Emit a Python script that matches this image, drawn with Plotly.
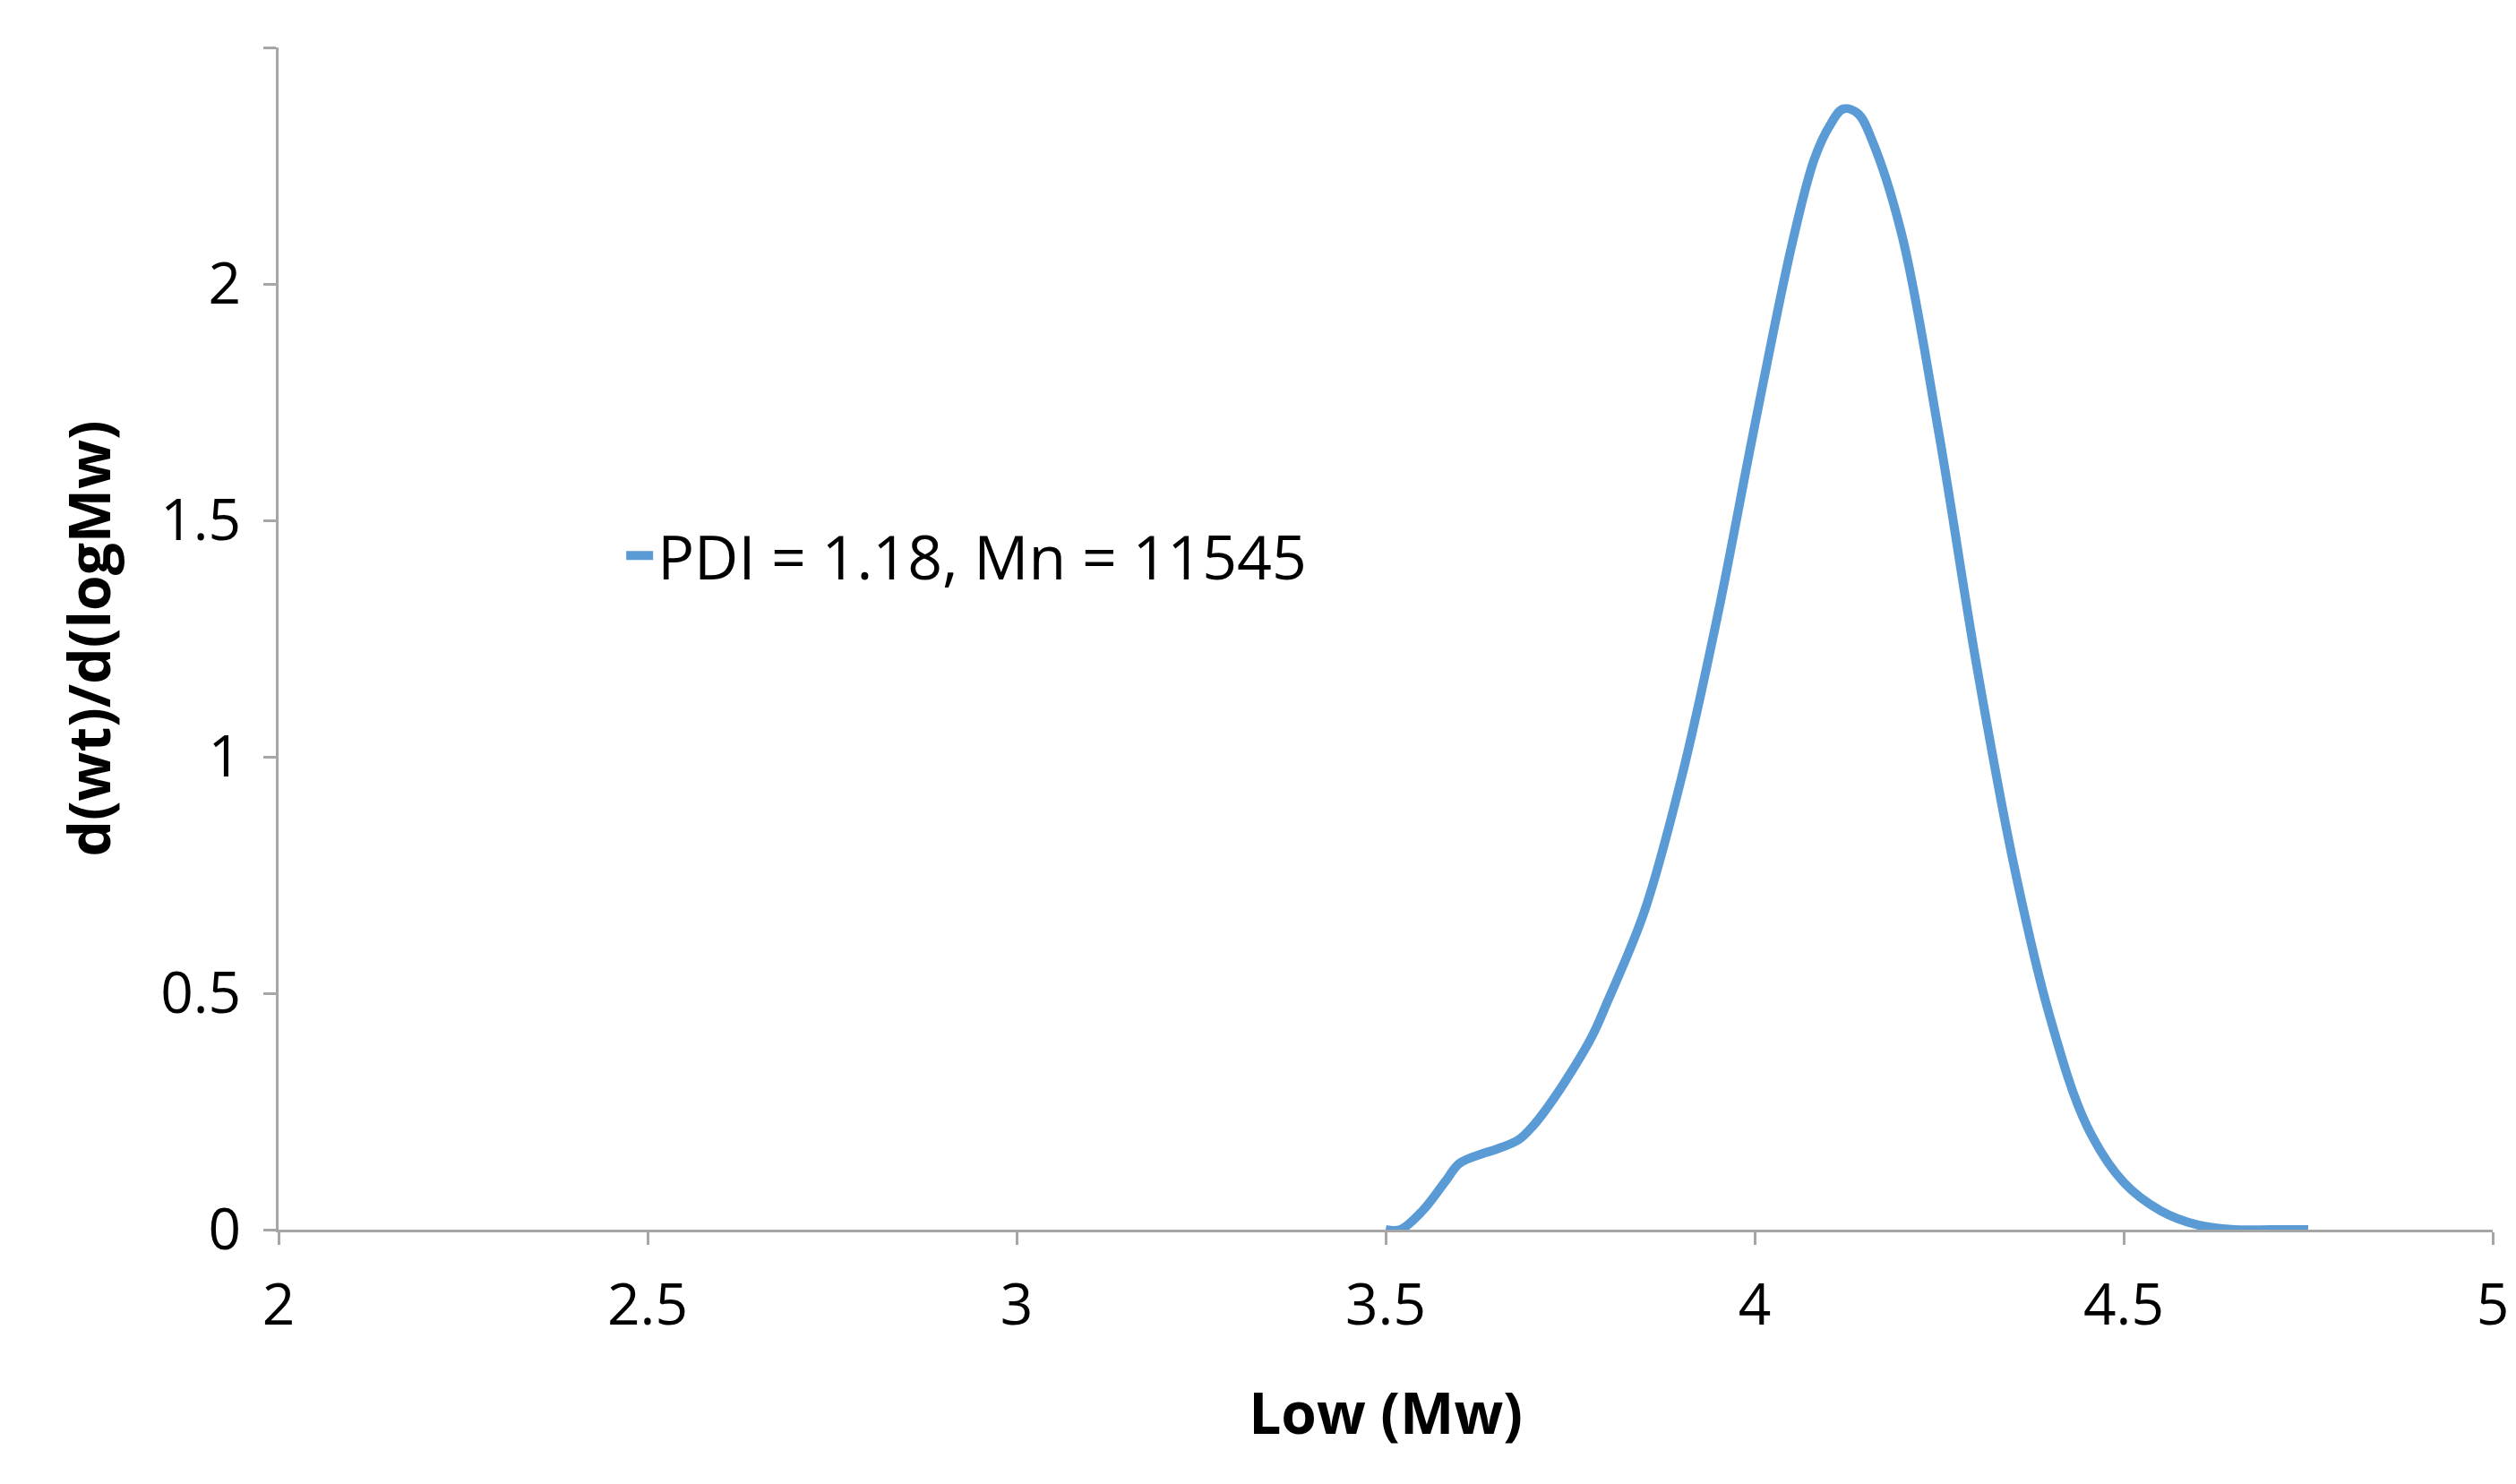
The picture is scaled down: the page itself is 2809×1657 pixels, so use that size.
import plotly.graph_objects as go

log_mw = [3.50, 3.52, 3.55, 3.58, 3.60, 3.63, 3.65, 3.68, 3.70, 3.72, 3.75, 3.78, 3.80,
          3.85, 3.90, 3.95, 4.00, 4.05, 4.08, 4.10, 4.12, 4.14, 4.16, 4.20, 4.25,
          4.30, 4.35, 4.40, 4.45, 4.50, 4.55, 4.60, 4.65, 4.70, 4.75]
dwt = [0.0, 0.0, 0.04, 0.10, 0.14, 0.16, 0.17, 0.19, 0.22, 0.26, 0.33, 0.41, 0.48,
       0.67, 0.95, 1.30, 1.70, 2.08, 2.26, 2.33, 2.37, 2.36, 2.30, 2.10, 1.68,
       1.20, 0.78, 0.45, 0.22, 0.10, 0.04, 0.01, 0.0, 0.0, 0.0]

font = "Open Sans, Liberation Sans, sans-serif"

fig = go.Figure(go.Scatter(
    x=log_mw, y=dwt, mode="lines", line=dict(color="#5B9BD5", width=10, shape="spline"),
    name="PDI = 1.18, Mn = 11545",
))

axis = dict(showgrid=False, zeroline=False, showline=True, linecolor="#A6A6A6", linewidth=3,
            ticks="outside", tickcolor="#A6A6A6", ticklen=14, tickwidth=3, ticklabelstandoff=12,
            tickfont=dict(size=64, color="black", family=font))
fig.update_layout(
    width=2809, height=1657, plot_bgcolor="white", paper_bgcolor="white",
    margin=dict(l=303, r=34, t=45, b=292),
    font=dict(family=font, color="black"),
    xaxis=dict(axis, range=[2, 5], dtick=0.5,
               title=dict(text="<b>Low (Mw)</b>", font=dict(size=64), standoff=60)),
    yaxis=dict(axis, range=[0, 2.5], dtick=0.5,
               title=dict(text="<b>d(wt)/d(logMw)</b>", font=dict(size=64), standoff=35)),
    showlegend=True,
    legend=dict(x=0.155, y=0.57, yanchor="middle", font=dict(size=68), bgcolor="rgba(0,0,0,0)"),
)
fig.write_html("out.html")
